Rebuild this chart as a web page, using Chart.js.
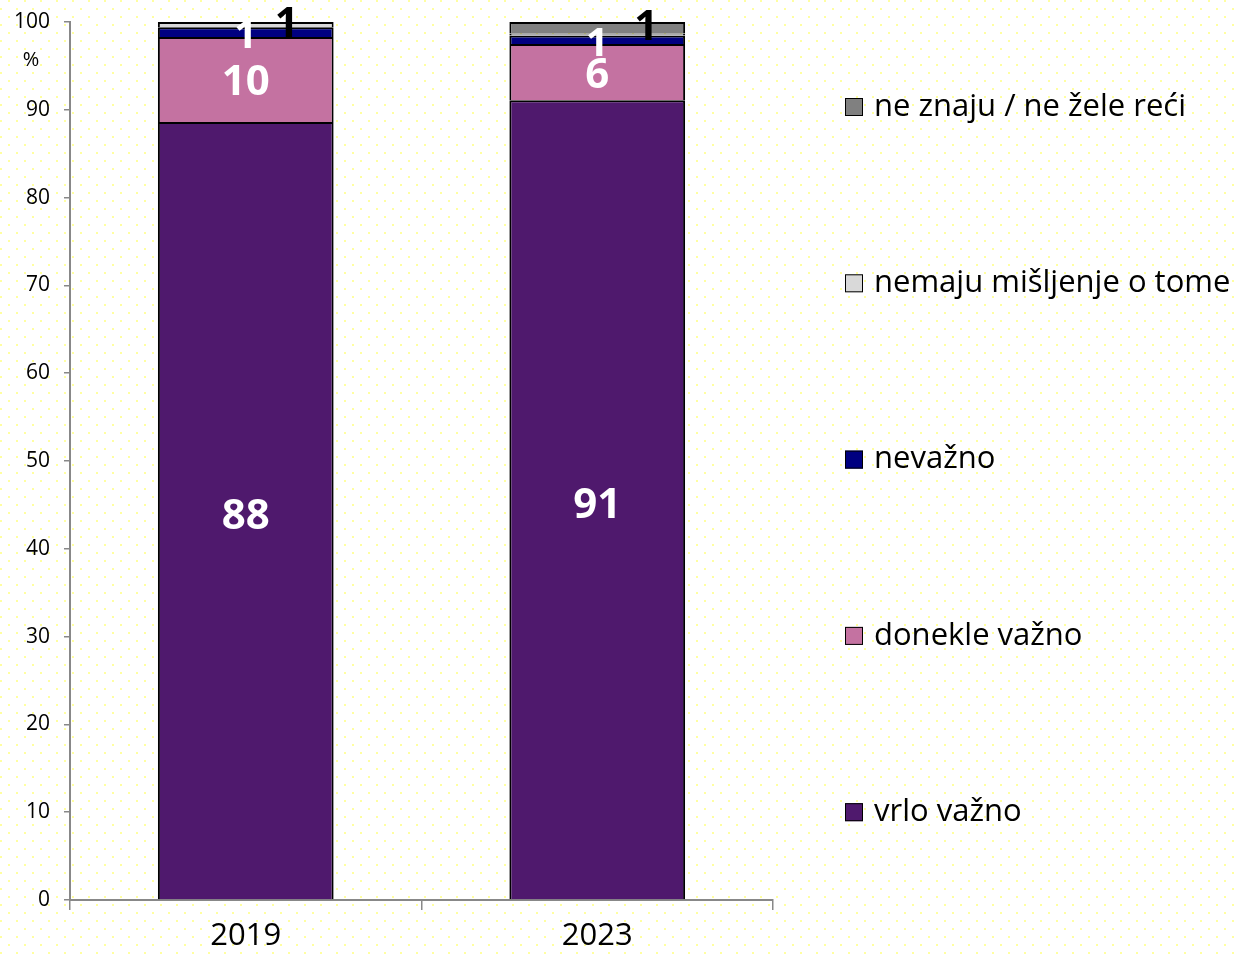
<!DOCTYPE html>
<html>
<head>
<meta charset="utf-8">
<script src="https://cdn.jsdelivr.net/npm/chart.js@4.4.1/dist/chart.umd.min.js"></script>
<style>
  body { margin: 0; background: #fff; }
  #wrap { width: 1235px; height: 960px; position: relative; }
</style>
</head>
<body>
<div id="wrap"><canvas id="myChart"></canvas></div>
<script>
// data (percent)
const years = ['2019', '2023'];
const vrloVazno = [88.6, 91.1];
const donekleVazno = [9.7, 6.4];
const nevazno = [1.1, 0.95];
const nemajuMisljenje = [0.6, 0.25];
const neZnaju = [0, 1.3];

// value labels as printed on the bars
const vrloLabels = ['88', '91'];
const donekleLabels = ['10', '6'];
const nevaznoLabels = ['1', '1'];
const nemajuLabels = ['1', ''];
const neZnajuLabels = ['', '1'];

const yTicks = [0, 10, 20, 30, 40, 50, 60, 70, 80, 90, 100];

const FONT = "'Open Sans', sans-serif";

// pale yellow dotted background
const bgPattern = {
    id: 'bgPattern',
    beforeDraw(chart) {
        const ctx = chart.ctx;
        const tile = document.createElement('canvas');
        tile.width = 16; tile.height = 16;
        const t = tile.getContext('2d');
        t.fillStyle = 'rgb(255,255,160)';
        t.fillRect(8, 0, 2, 2);
        t.fillRect(0, 8, 2, 2);
        ctx.save();
        ctx.fillStyle = '#fff';
        ctx.fillRect(0, 0, chart.width, chart.height);
        ctx.fillStyle = ctx.createPattern(tile, 'repeat');
        ctx.fillRect(0, 0, chart.width, chart.height);
        ctx.restore();
    }
};

// data labels in the middle of each segment
const barLabels = {
    id: 'barLabels',
    afterDatasetsDraw(chart) {
        const ctx = chart.ctx;
        ctx.save();
        ctx.textAlign = 'center';
        ctx.textBaseline = 'middle';
        chart.data.datasets.forEach((ds, i) => {
            const meta = chart.getDatasetMeta(i);
            meta.data.forEach((bar, j) => {
                const txt = ds.valueLabels[j];
                if (!txt) return;
                ctx.font = 'bold ' + ds.labelSize + 'px ' + FONT;
                ctx.fillStyle = ds.labelColor;
                const y = (bar.y + bar.base) / 2 + ds.labelShiftY;
                ctx.fillText(txt, bar.x + ds.labelShiftX, y);
            });
        });
        ctx.restore();
    }
};

// legend on the right, spread over the height, plus the % sign
const sideLegend = {
    id: 'sideLegend',
    afterDraw(chart) {
        const ctx = chart.ctx;
        ctx.save();
        const items = chart.data.datasets.slice().reverse();
        items.forEach((ds, k) => {
            const cy = 107 + k * 176.3;
            ctx.fillStyle = ds.backgroundColor;
            ctx.fillRect(845, cy - 9, 18, 18);
            ctx.strokeStyle = '#000';
            ctx.lineWidth = 1;
            ctx.strokeRect(845.5, cy - 8.5, 17, 17);
            ctx.fillStyle = '#000';
            ctx.font = '31px ' + FONT;
            ctx.textAlign = 'left';
            ctx.textBaseline = 'middle';
            ctx.fillText(ds.label, 874, cy);
        });
        ctx.font = '20px ' + FONT;
        ctx.textAlign = 'center';
        ctx.fillText('%', 31, 60);
        ctx.restore();
    }
};

function series(label, data, color, labels, labelColor, size, dx, dy) {
    return {
        label: label,
        data: data,
        backgroundColor: color,
        borderColor: '#000',
        borderWidth: 2,
        valueLabels: labels,
        labelColor: labelColor,
        labelSize: size,
        labelShiftX: dx,
        labelShiftY: dy
    };
}

const ctx = document.getElementById('myChart').getContext('2d');
const myChart = new Chart(ctx, {
    type: 'bar',
    data: {
        labels: years,
        datasets: [
            series('vrlo važno', vrloVazno, '#4f196d', vrloLabels, '#fff', 42, 0, 6),
            series('donekle važno', donekleVazno, '#c472a1', donekleLabels, '#fff', 42, 0, 4),
            series('nevažno', nevazno, '#000080', nevaznoLabels, '#fff', 40, 0, 5),
            series('nemaju mišljenje o tome', nemajuMisljenje, '#d9d9d9', nemajuLabels, '#000', 42, 41, 0),
            series('ne znaju / ne žele reći', neZnaju, '#808080', neZnajuLabels, '#000', 42, 49, 0)
        ]
    },
    options: {
        responsive: true,
        maintainAspectRatio: false,
        animation: false,
        layout: { padding: { top: 22, right: 462, left: 0, bottom: 0 } },
        datasets: { bar: { barPercentage: 0.5, categoryPercentage: 1.0 } },
        plugins: {
            legend: { display: false },
            tooltip: { enabled: false }
        },
        scales: {
            x: {
                stacked: true,
                grid: { display: true, drawOnChartArea: false, offset: true, tickLength: 10, color: '#888', lineWidth: 1.5 },
                border: { color: '#888', width: 2 },
                ticks: { color: '#000', font: { family: FONT, size: 31 }, padding: 8 },
                afterFit(scale) { scale.height = 60; }
            },
            y: {
                stacked: true,
                min: 0,
                max: 100,
                afterBuildTicks(scale) { scale.ticks = yTicks.map(v => ({ value: v })); },
                grid: { display: true, drawOnChartArea: false, tickLength: 6, color: '#888', lineWidth: 1.5 },
                border: { color: '#888', width: 2 },
                ticks: { color: '#000', font: { family: FONT, size: 21 }, padding: 14 },
                afterFit(scale) {
                    scale.width = 70;
                    scale.paddingTop = 0;
                    scale.paddingBottom = 0;
                }
            }
        }
    },
    plugins: [bgPattern, barLabels, sideLegend]
});
</script>
</body>
</html>
